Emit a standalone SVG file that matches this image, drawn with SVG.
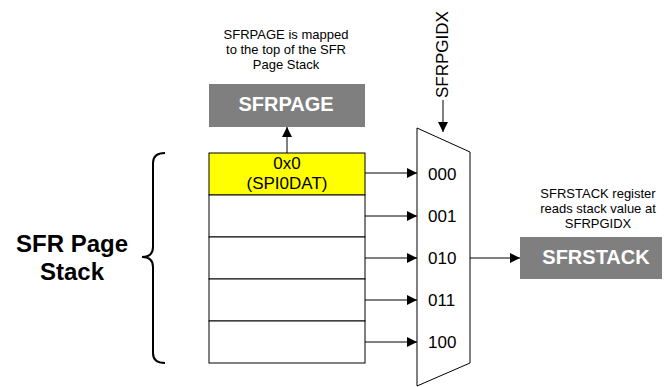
<svg xmlns="http://www.w3.org/2000/svg" width="665" height="387" viewBox="0 0 665 387">
  <defs>
    <marker id="arrow" viewBox="0 0 10 10" refX="10" refY="5" markerWidth="10" markerHeight="10" markerUnits="userSpaceOnUse" orient="auto">
      <path d="M0,0 L10,5 L0,10 Z" fill="#000"/>
    </marker>
    <style>
      text { font-family: "Liberation Sans", Arial, sans-serif; fill: #000; }
      .note { font-size: 13px; text-anchor: middle; }
      .cell { fill: #fff; stroke: #000; stroke-width: 1; }
      .reg { fill: #7f7f7f; }
      .regtxt { font-size: 20px; font-weight: bold; fill: #fff; text-anchor: middle; }
      .sel { font-size: 17px; }
      .conn { stroke: #000; stroke-width: 1; fill: none; marker-end: url(#arrow); }
    </style>
  </defs>
  <rect width="665" height="387" fill="#fff"/>

  <!-- SFR page stack label and brace -->
  <g id="stack-label">
    <text x="72" y="252" font-size="24" font-weight="bold" text-anchor="middle">SFR Page</text>
    <text x="72" y="280" font-size="24" font-weight="bold" text-anchor="middle">Stack</text>
    <path d="M165,153 Q153,153 153,163 L153,247 Q153,257 142,257 Q153,257 153,267 L153,353 Q153,363 165,363" fill="none" stroke="#000" stroke-width="2"/>
  </g>

  <!-- Stack entries -->
  <g id="stack">
    <rect x="209" y="153" width="156" height="42" fill="#ffff00" stroke="#000"/>
    <text x="287" y="169" class="sel" text-anchor="middle">0x0</text>
    <text x="287" y="189" class="sel" text-anchor="middle">(SPI0DAT)</text>
    <rect class="cell" x="209" y="195" width="156" height="42"/>
    <rect class="cell" x="209" y="237" width="156" height="42"/>
    <rect class="cell" x="209" y="279" width="156" height="42"/>
    <rect class="cell" x="209" y="321" width="156" height="42"/>
  </g>

  <!-- SFRPAGE register -->
  <g id="sfrpage">
    <text class="note" x="286" y="39">SFRPAGE is mapped</text>
    <text class="note" x="286" y="54">to the top of the SFR</text>
    <text class="note" x="286" y="69">Page Stack</text>
    <rect class="reg" x="209" y="84" width="156" height="43"/>
    <text class="regtxt" x="286" y="111">SFRPAGE</text>
  </g>

  <!-- Index multiplexer -->
  <g id="mux">
    <path d="M417,128 L470,152 L470,363 L417,386 Z" fill="#fff" stroke="#000"/>
    <text class="sel" x="428" y="180">000</text>
    <text class="sel" x="428" y="222">001</text>
    <text class="sel" x="428" y="264">010</text>
    <text class="sel" x="428" y="306">011</text>
    <text class="sel" x="428" y="348">100</text>
  </g>

  <!-- SFRPGIDX select input -->
  <g id="sfrpgidx">
    <text x="448" y="98" font-size="17" transform="rotate(-90 448 98)">SFRPGIDX</text>
  </g>

  <!-- SFRSTACK register -->
  <g id="sfrstack">
    <text class="note" x="598" y="198">SFRSTACK register</text>
    <text class="note" x="598" y="213">reads stack value at</text>
    <text class="note" x="598" y="228">SFRPGIDX</text>
    <rect class="reg" x="520" y="237" width="142" height="42"/>
    <text class="regtxt" x="596" y="264">SFRSTACK</text>
  </g>

  <!-- Connectors -->
  <g id="connectors">
    <line class="conn" x1="287" y1="153" x2="287" y2="127"/>
    <line class="conn" x1="443" y1="100" x2="443" y2="132"/>
    <line class="conn" x1="365" y1="173" x2="417" y2="173"/>
    <line class="conn" x1="365" y1="216" x2="417" y2="216"/>
    <line class="conn" x1="365" y1="258" x2="417" y2="258"/>
    <line class="conn" x1="365" y1="300" x2="417" y2="300"/>
    <line class="conn" x1="365" y1="342" x2="417" y2="342"/>
    <line class="conn" x1="470" y1="258" x2="520" y2="258"/>
  </g>
</svg>
